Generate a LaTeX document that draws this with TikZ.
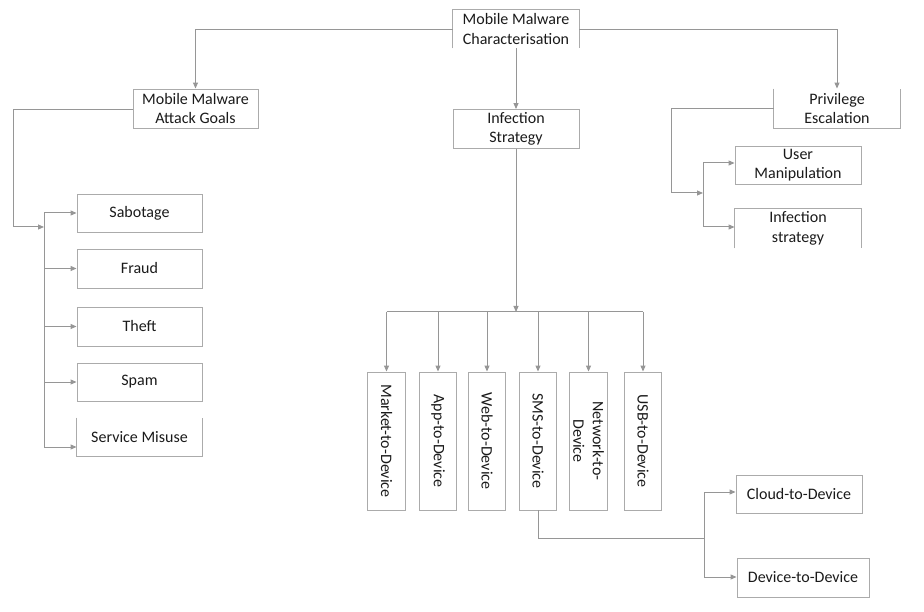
\documentclass[tikz,border=0pt]{standalone}
\usepackage{fontspec}
\setmainfont{Carlito}
\usetikzlibrary{arrows.meta}
\definecolor{lncol}{HTML}{969696}
\definecolor{bxcol}{HTML}{ABABAB}
\definecolor{txcol}{HTML}{1A1A1A}
\tikzset{
  box/.style={draw=bxcol, line width=0.9pt, inner sep=0pt, align=center, text=txcol,
    font=\fontsize{16}{19.5}\selectfont, minimum width=126pt, minimum height=38pt},
  openbox/.style={box, draw=none},
  edge/.style={draw=bxcol, line width=0.9pt},
  vbox/.style={box, rotate=-90, minimum width=138pt, minimum height=37.5pt},
  conn/.style={draw=lncol, line width=1pt},
  arr/.style={conn, -{Triangle[length=6pt,width=5pt]}}
}
\begin{document}
\begin{tikzpicture}[x=1pt,y=-1pt]
\useasboundingbox (0,0) rectangle (924,612);
% top level
\node[openbox] (top) at (516,29) {Mobile Malware\\Characterisation};
\draw[edge] (top.south west) -- (top.north west) -- (top.north east) -- (top.south east);
\node[box, minimum width=125pt, minimum height=39pt] (goals) at (195.5,108.5) {Mobile Malware\\Attack Goals};
\node[box, minimum height=39pt] (infs) at (516,129) {Infection\\Strategy};
\node[openbox, minimum height=39pt] (priv) at (837,108.5) {Privilege\\Escalation};
\draw[edge] (priv.north west) -- (priv.south west) -- (priv.south east) -- (priv.north east);

\draw[arr] (top.west |- 0,30) -| (goals.north);
\draw[arr] (top.east |- 0,30) -| (priv.north);
\draw[arr] (top.south) -- (infs.north);

% attack goals
\node[box, minimum width=125pt] (sab) at (139.5,213) {Sabotage};
\node[box, minimum width=125pt, minimum height=39pt] (fra) at (139.5,268.5) {Fraud};
\node[box, minimum width=125pt, minimum height=39pt] (the) at (139.5,326.5) {Theft};
\node[box, minimum width=125pt] (spa) at (139.5,382) {Spam};
\node[openbox, minimum width=125pt] (ser) at (139.5,437) {Service Misuse};
\draw[edge] (ser.north west) -- (ser.south west) -- (ser.south east) -- (ser.north east);
\coordinate (gb1) at (44,213);
\coordinate (gb2) at (44,447);
\coordinate (gin) at (44,227);
\draw[arr] (goals.west |- 0,110) -| (13,227) -- (gin);
\draw[conn] (gb1) -- (gb2);
\draw[arr] (gb1) -- (sab.west);
\draw[arr] (44,268.5) -- (fra.west);
\draw[arr] (44,326.5) -- (the.west);
\draw[arr] (44,382) -- (spa.west);
\draw[arr] (gb2) -- (ser.west |- gb2);

% privilege escalation
\node[box] (user) at (798,165) {User\\Manipulation};
\node[openbox, minimum height=39pt] (inf2) at (798,228.5) {Infection\\strategy};
\draw[edge] (inf2.south west) -- (inf2.north west) -- (inf2.north east) -- (inf2.south east);
\coordinate (pb1) at (703,163);
\coordinate (pb2) at (703,227);
\coordinate (pin) at (703,193);
\draw[arr] (priv.west) -| (671,193) -- (pin);
\draw[conn] (pb1) -- (pb2);
\draw[arr] (pb1) -- (user.west |- pb1);
\draw[arr] (pb2) -- (inf2.west |- pb2);

% infection strategies
\node[vbox] (mkt) at (386.5,441) {Market-to-Device};
\node[vbox] (app) at (438,441) {App-to-Device};
\node[vbox] (web) at (487,441) {Web-to-Device};
\node[vbox] (sms) at (538,441) {SMS-to-Device};
\node[vbox] (net) at (588.5,441) {Network-to-\\Device};
\node[vbox] (usb) at (643,441) {USB-to-Device};
\coordinate (ib) at (516,312);
\draw[arr] (infs.south) -- (ib);
\draw[conn] (mkt.west |- ib) -- (usb.west |- ib);
\foreach \n in {mkt,app,web,sms,net,usb}
  \draw[arr] (\n.west |- ib) -- (\n.west);

% sms sub
\node[box] (cloud) at (799,494) {Cloud-to-Device};
\node[box, minimum width=132pt, minimum height=39pt] (d2d) at (803,577.5) {Device-to-Device};
\coordinate (sb1) at (704,492);
\coordinate (sb2) at (704,577);
\draw[conn] (sms.east) |- (704,538);
\draw[conn] (sb1) -- (sb2);
\draw[arr] (sb1) -- (cloud.west |- sb1);
\draw[arr] (sb2) -- (d2d.west |- sb2);
\end{tikzpicture}
\end{document}
